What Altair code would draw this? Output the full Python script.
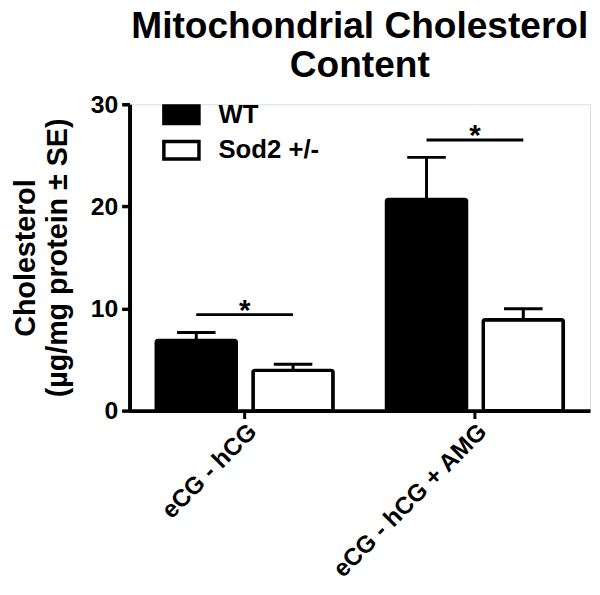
import altair as alt
import pandas as pd

# ---- data ----
groups = ["eCG - hCG", "eCG - hCG + AMG"]
series = ["WT", "Sod2 +/-"]
wt_mean = [6.87, 20.68]
wt_se = [0.78, 4.12]
sod_mean = [3.94, 8.90]
sod_se = [0.61, 1.07]
sig_level = [9.4, 26.5]
sig_text = ["*", "*"]
y_ticks = [0, 10, 20, 30]
title_lines = ["Mitochondrial Cholesterol", "Content"]
y_title_lines = ["Cholesterol", "(µg/mg protein ± SE)"]

FONT = "Liberation Sans"

rows = []
for i, g in enumerate(groups):
    rows.append({"group": g, "series": series[0], "mean": wt_mean[i], "upper": wt_mean[i] + wt_se[i]})
    rows.append({"group": g, "series": series[1], "mean": sod_mean[i], "upper": sod_mean[i] + sod_se[i]})
df = pd.DataFrame(rows)

sig_rows = []
for i, g in enumerate(groups):
    for s in series:
        sig_rows.append({"group": g, "series": s, "level": sig_level[i]})
sig_df = pd.DataFrame(sig_rows)

star_df = pd.DataFrame({"group": groups, "level": sig_level, "txt": sig_text})

x_enc = alt.X(
    "group:N",
    sort=groups,
    scale=alt.Scale(domain=groups, paddingInner=0, paddingOuter=0),
    title=None,
    axis=alt.Axis(
        labelAngle=-45,
        labelFont=FONT,
        labelFontSize=24.5,
        labelFontWeight="bold",
        labelColor="black",
        labelPadding=1,
        labelLimit=1000,
        tickSize=8,
        tickWidth=3,
        tickColor="black",
        domainWidth=4,
        domainColor="black",
        grid=False,
    ),
)
xo_enc = alt.XOffset(
    "series:N",
    sort=series,
    scale=alt.Scale(domain=series, paddingInner=0.173, paddingOuter=0.276),
)
y_scale = alt.Scale(domain=[0, 30], nice=False, zero=True)

y_axis = alt.Axis(
    values=y_ticks,
    labelFont=FONT,
    labelFontSize=25,
    labelFontWeight="bold",
    labelColor="black",
    labelPadding=4,
    tickSize=8,
    tickWidth=3.5,
    tickColor="black",
    domainWidth=4,
    domainColor="black",
    grid=False,
    title=y_title_lines,
    titleFont=FONT,
    titleFontSize=29,
    titleFontWeight="bold",
    titleColor="black",
    titleAngle=270,
    titleAlign="center",
    titleBaseline="bottom",
    titleLineHeight=32,
    titleX=-90,
    titleY=155,
)

bars = alt.Chart(df).mark_bar(stroke="black", strokeWidth=3.5, cornerRadius=2).encode(
    x=x_enc,
    xOffset=xo_enc,
    y=alt.Y("mean:Q", scale=y_scale, axis=y_axis),
    fill=alt.Fill(
        "series:N",
        sort=series,
        scale=alt.Scale(domain=series, range=["black", "white"]),
        legend=alt.Legend(
            title=None,
            orient="none",
            legendX=33,
            legendY=-9,
            symbolType="M-1,-0.5H1V0.5H-1Z",
            symbolSize=1260,
            symbolStrokeColor="black",
            symbolStrokeWidth=3.5,
            symbolOpacity=1,
            labelFont=FONT,
            labelFontSize=26,
            labelFontWeight="bold",
            labelColor="black",
            labelOffset=18,
            rowPadding=-4,
            padding=0,
        ),
    ),
)

stems = alt.Chart(df).mark_rule(color="black", strokeWidth=3).encode(
    x=alt.X("group:N", sort=groups),
    xOffset=alt.XOffset("series:N", sort=series),
    y=alt.Y("mean:Q"),
    y2="upper:Q",
)

caps = alt.Chart(df).mark_tick(orient="horizontal", size=39, thickness=3, color="black", opacity=1).encode(
    x=alt.X("group:N", sort=groups),
    xOffset=alt.XOffset("series:N", sort=series),
    y=alt.Y("upper:Q"),
)

sig_lines = alt.Chart(sig_df).mark_line(color="black", strokeWidth=3).encode(
    x=alt.X("group:N", sort=groups),
    xOffset=alt.XOffset("series:N", sort=series),
    y=alt.Y("level:Q"),
    detail="group:N",
)

stars = alt.Chart(star_df).mark_text(
    font=FONT, fontSize=30, fontWeight="bold", baseline="alphabetic", dy=5, color="black"
).encode(
    x=alt.X("group:N", sort=groups),
    y=alt.Y("level:Q"),
    text="txt:N",
)

chart = (
    alt.layer(bars, stems, caps, sig_lines, stars)
    .properties(
        width=466,
        height=310,
        autosize=alt.AutoSizeParams(type="none"),
        padding={"left": 123, "top": 94, "right": 2, "bottom": 170},
        title=alt.TitleParams(
            title_lines,
            font=FONT,
            fontSize=37.5,
            fontWeight="bold",
            color="black",
            anchor="middle",
            frame="group",
            lineHeight=40,
            offset=8,
        ),
    )
    .configure_view(stroke="transparent", strokeWidth=0)
    .configure(background="white")
)

chart.save("out.html", embed_options={"renderer": "svg", "actions": False})
